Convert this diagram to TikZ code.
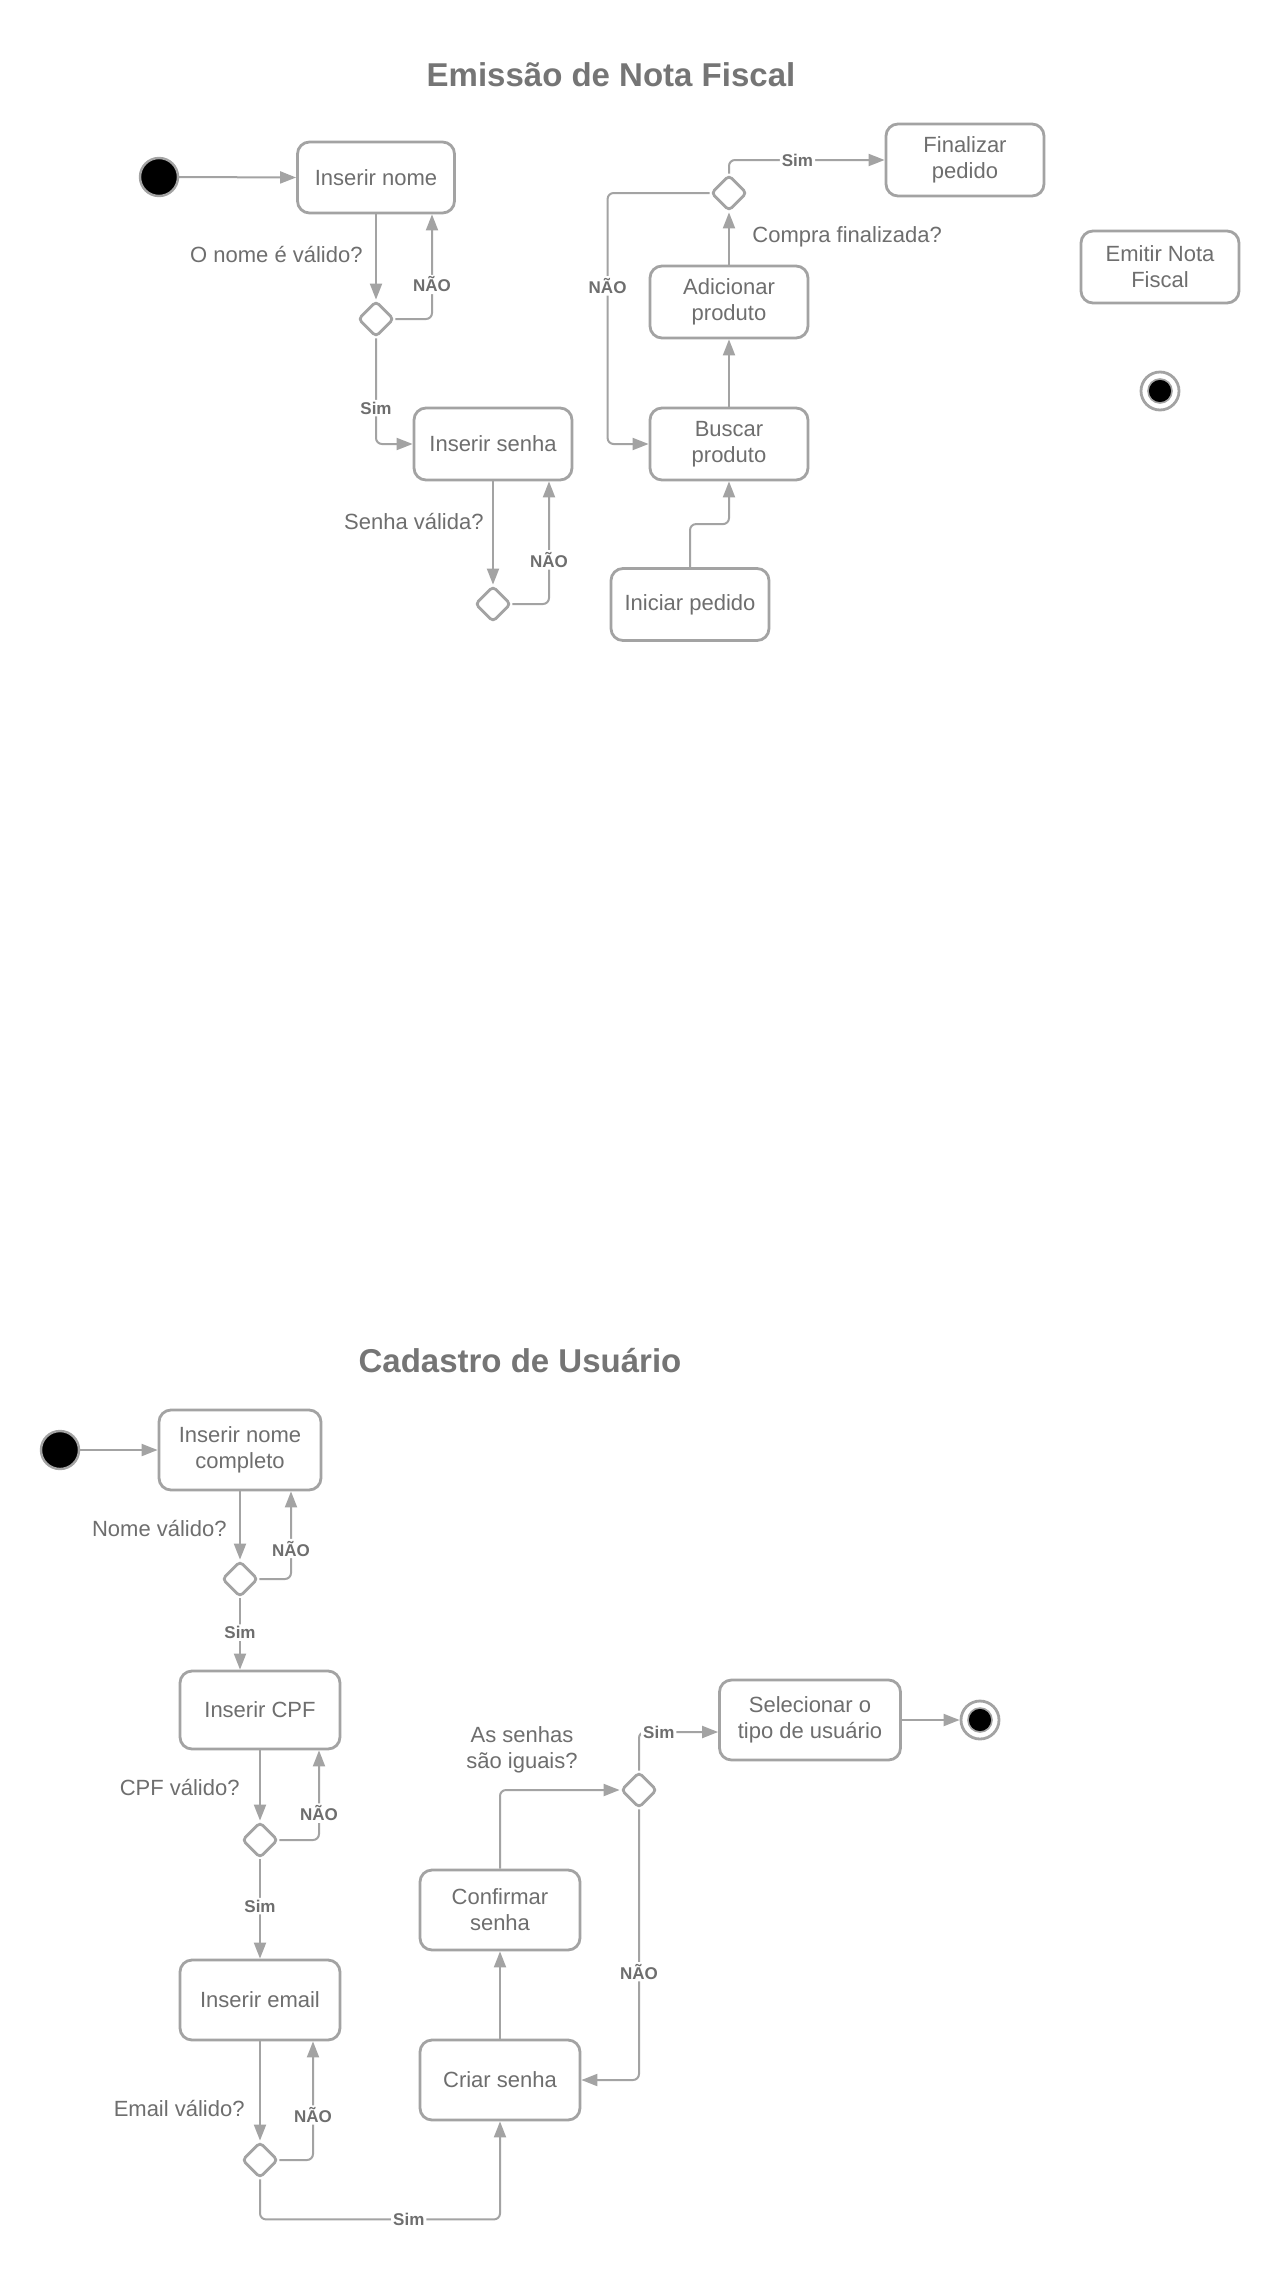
\documentclass[tikz,border=0pt]{standalone}
\usepackage{fontspec}
\setmainfont{Liberation Sans}
\usetikzlibrary{arrows.meta,shapes.geometric,calc}
\definecolor{lgray}{HTML}{A3A3A3}
\definecolor{tgray}{HTML}{6E6E6E}
\definecolor{hgray}{HTML}{757575}
\begin{document}
\begin{tikzpicture}[x=0.5pt,y=-0.5pt,
  box/.style={draw=lgray, line width=1.4pt, rounded corners=6pt, fill=white, align=center, text=tgray,
    font=\fontsize{11}{13}\selectfont, inner sep=2pt, minimum width=79pt, minimum height=36pt},
  dec/.style={diamond, draw=lgray, line width=1.4pt, rounded corners=2pt, minimum width=18pt,
    minimum height=18pt, inner sep=0pt, fill=white},
  conn/.style={draw=lgray, line width=1pt, -{Triangle[length=8pt,width=6pt]}, rounded corners=3pt},
  plain/.style={draw=lgray, line width=1pt, rounded corners=3pt},
  lbl/.style={font=\bfseries\fontsize{8.5}{10}\selectfont, text=tgray, fill=white, inner sep=1pt},
  qtext/.style={text=tgray, font=\fontsize{11}{13}\selectfont, inner sep=0pt, align=center},
  ttl/.style={text=hgray, font=\bfseries\fontsize{16.5}{20}\selectfont, inner sep=0pt},
  startst/.style={circle, fill=black, draw=lgray, line width=1.2pt, minimum size=19pt, inner sep=0pt},
  endst/.style={circle, fill=white, draw=lgray, line width=1.4pt, minimum size=19pt, inner sep=0pt,
    path picture={\filldraw[fill=black, draw=lgray, line width=0.8pt] (path picture bounding box.center) circle (6pt);}}
]
\useasboundingbox[fill=white] (0,0) rectangle (1280,2270);

% ---------------- Emissao de Nota Fiscal ----------------
\node[ttl] (title1) at (611,75) {Emissão de Nota Fiscal};
\node[startst] (s1) at (159,177) {};
\node[box, minimum width=78.5pt, minimum height=35.5pt] (n1) at (376,177.5) {Inserir nome};
\node[dec] (d1) at (376,319) {};
\node[qtext, anchor=east] (q1) at (363,255) {O nome é válido?};
\node[box] (n2) at (493,444) {Inserir senha};
\node[dec] (d2) at (493,604) {};
\node[qtext, anchor=east] (q2) at (484,522) {Senha válida?};
\node[box] (n3) at (690,604.5) {Iniciar pedido};
\node[box] (n4) at (729,444) {Buscar\\produto};
\node[box] (n5) at (729,302) {Adicionar\\produto};
\node[dec] (d3) at (729,193) {};
\node[qtext, anchor=west] (q3) at (752,237) {Compra finalizada?};
\node[box] (n6) at (965,160) {Finalizar\\pedido};
\node[box] (n7) at (1160,267) {Emitir Nota\\Fiscal};
\node[endst] (e1) at (1160,391) {};

\draw[conn] (s1.east) -- (n1.west);
\draw[conn] (n1.south) -- (d1.north);
\draw[conn] (d1.east) -| node[lbl, pos=0.665] (l1) {NÃO} ([xshift=28pt]n1.south);
\draw[conn] (d1.south) |- node[lbl, pos=0.33] (l2) {Sim} (n2.west);
\draw[conn] (n2.south) -- (d2.north);
\draw[conn] (d2.east) -| node[lbl, pos=0.68] (l3) {NÃO} ([xshift=28pt]n2.south);
\draw[conn] (n3.north) -- ++(0,-43) -| (n4.south);
\draw[conn] (n4.north) -- (n5.south);
\draw[conn] (n5.north) -- (d3.south);
\draw[conn] (d3.north) |- node[lbl, pos=0.72] (l4) {Sim} (n6.west);
\draw[conn] (d3.west) -- ++(-102,0) |- node[lbl, pos=0.185] (l5) {NÃO} (n4.west);

% ---------------- Cadastro de Usuario ----------------
\node[ttl] (title2) at (520,1361) {Cadastro de Usuário};
\node[startst] (s2) at (60,1450) {};
\node[box, minimum width=81pt, minimum height=40pt] (m1) at (240,1450) {Inserir nome\\completo};
\node[dec] (dd1) at (240,1579) {};
\node[qtext, anchor=east] (r1) at (227,1528) {Nome válido?};
\node[box, minimum width=80pt, minimum height=39pt] (m2) at (260,1710) {Inserir CPF};
\node[dec] (dd2) at (260,1840) {};
\node[qtext, anchor=east] (r2) at (240,1787) {CPF válido?};
\node[box, minimum width=80pt, minimum height=40pt] (m3) at (260,2000) {Inserir email};
\node[dec] (dd3) at (260,2160) {};
\node[qtext, anchor=east] (r3) at (245,2108) {Email válido?};
\node[box, minimum width=80pt, minimum height=40pt] (m4) at (500,2080) {Criar senha};
\node[box, minimum width=80pt, minimum height=40pt] (m5) at (500,1910) {Confirmar\\senha};
\node[dec] (dd4) at (639,1790) {};
\node[qtext] (r4) at (522,1750) {As senhas\\são iguais?};
\node[box, minimum width=90.5pt, minimum height=40pt] (m6) at (810,1720) {Selecionar o\\tipo de usuário};
\node[endst] (e2) at (980,1720) {};

\draw[conn] (s2.east) -- (m1.west);
\draw[conn] (m1.south) -- (dd1.north);
\draw[conn] (dd1.east) -| node[lbl, pos=0.674] (k1) {NÃO} ([xshift=25.5pt]m1.south);
\draw[conn] (dd1.south) -- node[lbl, pos=0.48] (k2) {Sim} (dd1.south |- m2.north);
\draw[conn] (m2.south) -- (dd2.north);
\draw[conn] (dd2.east) -| node[lbl, pos=0.65] (k3) {NÃO} ([xshift=29.5pt]m2.south);
\draw[conn] (dd2.south) -- node[lbl, pos=0.47] (k4) {Sim} (m3.north);
\draw[conn] (m3.south) -- (dd3.north);
\draw[conn] (dd3.east) -| node[lbl, pos=0.69] (k5) {NÃO} ([xshift=26.5pt]m3.south);
\draw[conn] (dd3.south) -- ++(0,40) -| node[lbl, pos=0.31] (k6) {Sim} (m4.south);
\draw[conn] (m4.north) -- (m5.south);
\draw[conn] (m5.north) |- (dd4.west);
\draw[conn] (dd4.north) |- node[lbl, pos=0.625] (k7) {Sim} ([yshift=-6pt]m6.west);
\draw[conn] (dd4.south) |- node[lbl, pos=0.3] (k8) {NÃO} (m4.east);
\draw[conn] (m6.east) -- (e2.west);
\end{tikzpicture}
\end{document}
